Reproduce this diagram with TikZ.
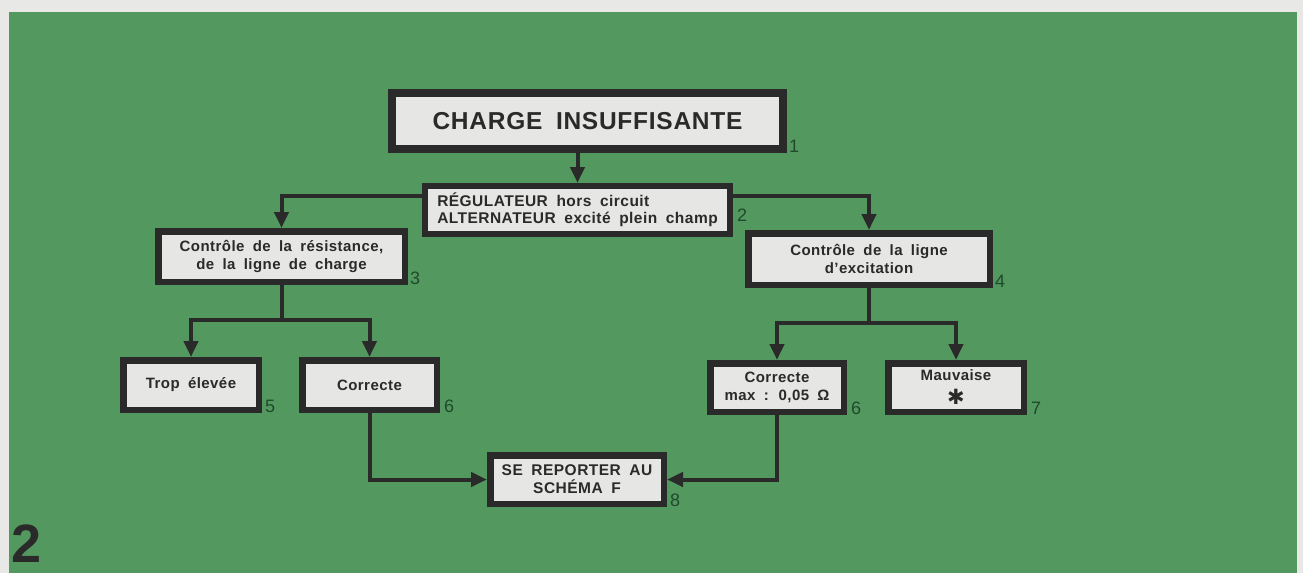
\documentclass[tikz,border=0pt]{standalone}
\usepackage{fontspec}
\setmainfont{Liberation Sans}[LetterSpace=3,WordSpace=1.8]
\newfontfamily\symfont{DejaVu Sans}
\usetikzlibrary{arrows.meta}
\definecolor{bggray}{HTML}{E8E8E6}
\definecolor{pagegreen}{HTML}{53985F}
\definecolor{boxfill}{HTML}{E6E6E4}
\definecolor{framec}{HTML}{2A2A2A}
\definecolor{ink}{HTML}{2A2A2A}
\definecolor{numgreen}{HTML}{1F4A2C}
\begin{document}
\begin{tikzpicture}[x=1pt,y=-1pt,
 box/.style={draw=framec, fill=boxfill, line width=6.5pt, inner sep=0pt, text=ink,
   font=\bfseries\fontsize{15}{18}\selectfont, align=center},
 num/.style={text=numgreen, font=\fontsize{18}{18}\selectfont, inner sep=0pt, anchor=south west},
 conn/.style={draw=framec, line width=4pt},
 arr/.style={conn, -{Triangle[width=14pt,length=16pt]}}]
% background
\fill[bggray] (0,0) rectangle (1303,573);
\fill[pagegreen] (9,12) rectangle (1297,573);
\useasboundingbox (0,0) rectangle (1303,573);

% boxes
\node[box, line width=8pt, minimum width=391pt, minimum height=56pt,
  font=\bfseries\fontsize{24.5}{28}\selectfont] (b1) at (587.5,121) {CHARGE INSUFFISANTE};
\node[box, line width=6pt, minimum width=305pt, minimum height=48pt, align=left,
  font=\bfseries\fontsize{15.5}{17}\selectfont] (b2) at (577.5,210)
  {RÉGULATEUR hors circuit\\ALTERNATEUR excité plein champ};
\node[box, minimum width=246.5pt, minimum height=50.5pt] (b3) at (281.5,256.5)
  {Contrôle de la résistance,\\de la ligne de charge};
\node[box, minimum width=241.5pt, minimum height=51.5pt] (b4) at (869,259)
  {Contrôle de la ligne\\d’excitation};
\node[box, minimum width=135.5pt, minimum height=49.5pt] (b5) at (191,385) {Trop élevée};
\node[box, minimum width=134.5pt, minimum height=49.5pt] (b6) at (369.5,385) {Correcte};
\node[box, minimum width=133.5pt, minimum height=48.5pt] (b6r) at (777,387.5)
  {Correcte\\max : 0,05 Ω};
\node[box, minimum width=135.5pt, minimum height=48.5pt] (b7) at (956,387.5)
  {Mauvaise\\[3pt]\raisebox{-3pt}{\symfont\fontsize{21}{20}\selectfont ✱}};
\node[box, minimum width=173.5pt, minimum height=48.5pt,
  font=\bfseries\fontsize{15.5}{18}\selectfont] (b8) at (577,479.5)
  {SE REPORTER AU\\SCHÉMA F};

% number labels
\node[num] (n1) at ([xshift=2pt]b1.south east) {1};
\node[num] (n2) at ([xshift=4pt,yshift=15pt]b2.south east) {2};
\node[num] (n3) at ([xshift=2pt]b3.south east) {3};
\node[num] (n4) at ([xshift=2pt]b4.south east) {4};
\node[num] (n5) at ([xshift=3pt]b5.south east) {5};
\node[num] (n6) at ([xshift=4pt]b6.south east) {6};
\node[num] (n6r) at ([xshift=4pt]b6r.south east) {6};
\node[num] (n7) at ([xshift=4pt]b7.south east) {7};
\node[num] (n8) at ([xshift=3pt]b8.south east) {8};

% figure number
\node[text=ink, font=\bfseries\fontsize{54}{54}\selectfont, inner sep=0pt, anchor=base west]
  (fig) at (11,562) {2};

% connectors
\draw[arr] (b1.south -| b2.north) -- (b2.north);
\draw[arr] ([yshift=14pt]b2.west) -| (b3.north);
\draw[arr] ([yshift=14pt]b2.east) -| (b4.north);
\draw[conn] (b3.south) -- ++(0,35) coordinate (j1);
\draw[arr] (j1) -| (b5.north);
\draw[arr] (j1) -| (b6.north);
\draw[conn] (b4.south) -- ++(0,35) coordinate (j2);
\draw[arr] (j2) -| (b6r.north);
\draw[arr] (j2) -| (b7.north);
\draw[arr] (b6.south) |- (b8.west);
\draw[arr] (b6r.south) |- (b8.east);
\end{tikzpicture}
\end{document}
